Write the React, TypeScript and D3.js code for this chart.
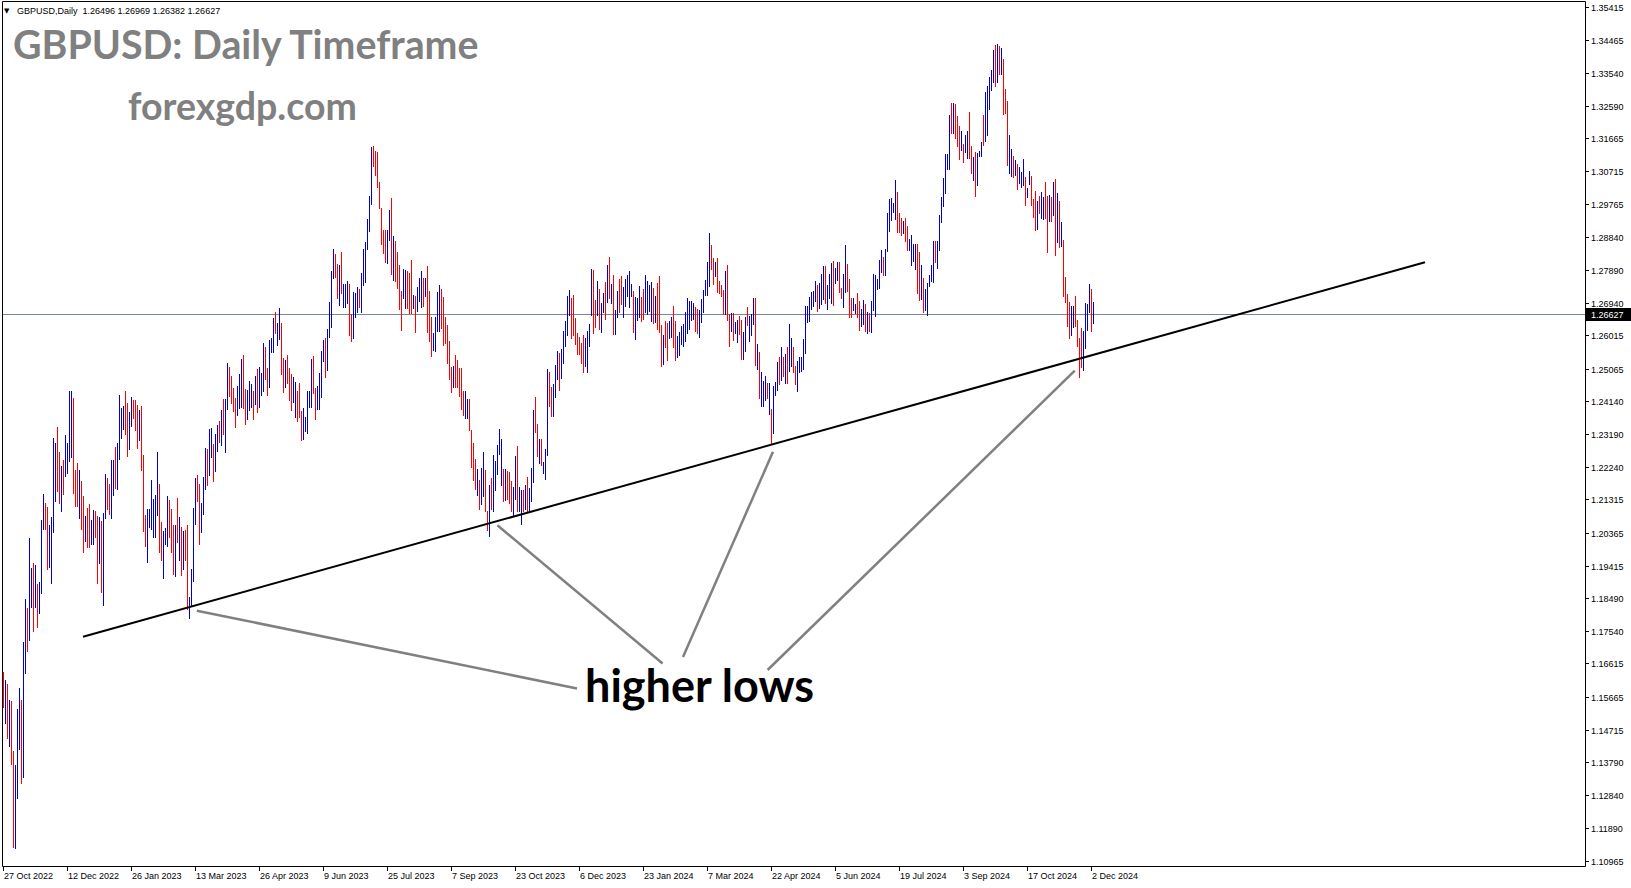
import { useEffect, useRef } from "react";
import * as d3 from "d3";

// GBPUSD daily bars, 27 Oct 2022 .. 2 Dec 2024 (high / low, u = up bar, d = down bar)
const highsP1 = [
  1.1637, 1.1614, 1.1603, 1.1557, 1.1554, 1.141, 1.137, 1.1531, 1.1591, 1.1557,
  1.1723, 1.1847, 1.1821, 1.2022, 1.1936, 1.195, 1.1944, 1.189, 1.1895, 1.2073,
  1.2148, 1.2122, 1.2111, 1.2059, 1.2082, 1.2306, 1.2294, 1.234, 1.2266, 1.2228,
  1.2243, 1.2317, 1.2294, 1.2441, 1.2443, 1.2423, 1.2217, 1.2237, 1.2217, 1.2185,
  1.2142, 1.2085, 1.2108, 1.2119, 1.2073, 1.2102, 1.2099, 1.2085, 1.2082, 1.207,
  1.2093, 1.2205, 1.2194, 1.2177, 1.2243, 1.2243, 1.2283, 1.2294, 1.2432, 1.2392,
  1.24, 1.2443, 1.2409, 1.2383, 1.2426, 1.2415, 1.2415, 1.2403, 1.2389, 1.2398,
  1.226, 1.2088, 1.2105, 1.2105, 1.2188, 1.2134, 1.2145, 1.2266, 1.2177, 1.2067,
  1.2042, 1.205, 1.2142, 1.2131, 1.2105, 1.2059, 1.2059, 1.2136, 1.2082, 1.2053,
  1.2042, 1.2045, 1.2059, 1.1852, 1.1933, 1.2108, 1.2194, 1.22, 1.2177, 1.2122,
  1.2197, 1.228, 1.2277, 1.2332, 1.2337, 1.2289, 1.232, 1.2346, 1.2357,
];
const lowsP1 = [
  1.1538, 1.1492, 1.1449, 1.1426, 1.1374, 1.1136, 1.1133, 1.1276, 1.1417, 1.132,
  1.1337, 1.1635, 1.1698, 1.173, 1.1822, 1.1753, 1.1822, 1.1767, 1.1807, 1.1862,
  1.2048, 1.2048, 1.1931, 1.1937, 1.1891, 1.2037, 1.2126, 1.2155, 1.212, 1.2097,
  1.2146, 1.2198, 1.2206, 1.2241, 1.2252, 1.2149, 1.2112, 1.2113, 1.2077, 1.2046,
  1.1982, 1.2011, 1.1994, 1.1994, 1.2003, 1.2003, 1.2025, 1.1891, 1.1948, 1.1865,
  1.183, 1.2077, 1.2103, 1.2091, 1.2077, 1.2143, 1.2163, 1.216, 1.2246, 1.2307,
  1.2332, 1.2318, 1.2255, 1.2275, 1.2341, 1.2364, 1.233, 1.2278, 1.2301, 1.2215,
  1.204, 1.1997, 1.1951, 1.2051, 1.2048, 1.2025, 1.2025, 1.2086, 1.198, 1.1957,
  1.1905, 1.2005, 1.1997, 1.2025, 1.1982, 1.1919, 1.1913, 1.2008, 1.1957, 1.1916,
  1.1931, 1.1957, 1.1816, 1.1793, 1.1825, 1.1899, 1.206, 1.2128, 1.2003, 1.2037,
  1.2089, 1.216, 1.2172, 1.2201, 1.2252, 1.2183, 1.2212, 1.2271, 1.2295,
];
const dirsP1 =
  "dududduuud" + "uuduududuu" + "udduuuuddu" + "duuuudddud" + "dudduuddud" +
  "uudduuduuu" + "udduudddud" + "dduuuuuudd" + "uuudddudud" + "udduuuuddu" + "uuduuduud";

const highsP2 = [
  1.2389, 1.242, 1.242, 1.2521, 1.2512, 1.2484, 1.2452, 1.2423, 1.2455, 1.2492,
  1.2535, 1.2544, 1.2449, 1.2446, 1.2472, 1.2463, 1.2443, 1.2484, 1.2504, 1.2512,
  1.2495, 1.2581, 1.2567, 1.2509, 1.2587, 1.2595, 1.265, 1.2667, 1.2638, 1.2679,
  1.2638, 1.2538, 1.2532, 1.2544, 1.2507, 1.2492, 1.2481, 1.2469, 1.2443, 1.2466,
  1.2384, 1.2393, 1.2367, 1.2443, 1.2441, 1.2535, 1.2541, 1.2452, 1.2455, 1.2495,
  1.2558, 1.2587, 1.2595, 1.2621, 1.2696, 1.2785, 1.2848, 1.2836, 1.2805, 1.2802,
  1.2839, 1.2748, 1.275, 1.2756, 1.275, 1.2664, 1.2725, 1.2722, 1.2739, 1.2733,
  1.2779, 1.2848, 1.2868, 1.2934, 1.3, 1.3141, 1.3144, 1.313, 1.3126, 1.304,
  1.2966, 1.2902, 1.2902, 1.2902, 1.296, 1.2994, 1.2885, 1.2871, 1.2839, 1.2802,
  1.2728, 1.2791, 1.2788, 1.2785, 1.2779, 1.2816, 1.2716, 1.2714, 1.274, 1.2766,
  1.2785, 1.2765, 1.2765, 1.2799, 1.2728, 1.2653, 1.2608, 1.2653, 1.2727, 1.2745,
];
const lowsP2 = [
  1.2286, 1.2318, 1.2266, 1.239, 1.2427, 1.2407, 1.2384, 1.2338, 1.2373, 1.2393,
  1.2396, 1.2393, 1.2347, 1.2361, 1.2387, 1.2396, 1.2361, 1.2404, 1.2381, 1.2396,
  1.243, 1.2441, 1.2476, 1.243, 1.2453, 1.2553, 1.2553, 1.2608, 1.2573, 1.2591,
  1.249, 1.2439, 1.2453, 1.2464, 1.2416, 1.2387, 1.241, 1.2367, 1.2355, 1.2367,
  1.2301, 1.2304, 1.2327, 1.2321, 1.2396, 1.2396, 1.2436, 1.2361, 1.239, 1.239,
  1.2424, 1.2528, 1.2482, 1.2502, 1.2596, 1.2625, 1.2766, 1.2769, 1.2708, 1.2688,
  1.2723, 1.2683, 1.2683, 1.2694, 1.2602, 1.2585, 1.2594, 1.2654, 1.2668, 1.2683,
  1.2668, 1.2746, 1.2754, 1.2849, 1.2901, 1.2978, 1.3087, 1.306, 1.3027, 1.2967,
  1.2863, 1.2837, 1.2812, 1.2809, 1.2874, 1.2777, 1.276, 1.2757, 1.2737, 1.2677,
  1.2616, 1.2708, 1.268, 1.268, 1.2665, 1.2665, 1.268, 1.2611, 1.267, 1.27,
  1.2683, 1.2685, 1.2714, 1.2611, 1.2585, 1.2542, 1.2559, 1.2556, 1.2614, 1.2614,
];
const dirsP2 =
  "uduudddduu" + "udduuududu" + "uudduuuduu" + "dduddduudd" + "duuuuudduu" +
  "uuduuuuddu" + "duuudduuud" + "uuuuuudddd" + "ddduududdd" + "duuddduduu" + "ududdduuuu";

const highsP3 = [
  1.2733, 1.271, 1.2653, 1.263, 1.2584, 1.2512, 1.2515, 1.2544, 1.253, 1.2507,
  1.2507, 1.2443, 1.2443, 1.242, 1.2418, 1.233, 1.2292, 1.2246, 1.2218, 1.2186,
  1.2221, 1.2266, 1.2215, 1.2097, 1.2172, 1.2192, 1.2258, 1.2241, 1.2287, 1.2332,
  1.2304, 1.2218, 1.2218, 1.2212, 1.2209, 1.2183, 1.2166, 1.2255, 1.2284, 1.2166,
  1.2157, 1.2157, 1.2172, 1.2195, 1.2163, 1.2221, 1.2387, 1.2424, 1.2347, 1.2304,
  1.2304, 1.2238, 1.2275, 1.2505, 1.2496, 1.2453, 1.2463, 1.2516, 1.2556, 1.2551,
  1.2562, 1.2614, 1.2642, 1.2714, 1.2731, 1.2708, 1.2717, 1.2651, 1.2608, 1.2596,
  1.2579, 1.2602, 1.2594, 1.2614, 1.2634, 1.2793, 1.2789, 1.2703, 1.2757, 1.2734,
  1.2695, 1.2723, 1.2754, 1.2803, 1.2826, 1.2749, 1.2774, 1.2674, 1.2728, 1.2763,
  1.2771, 1.274, 1.2763, 1.2774, 1.2786, 1.2749, 1.2728, 1.2711, 1.2708, 1.2743,
  1.2711, 1.2734, 1.2774, 1.2757, 1.2747, 1.2754, 1.2737, 1.2714, 1.2752, 1.2771,
];
const lowsP3 = [
  1.2622, 1.2574, 1.2579, 1.2522, 1.2476, 1.244, 1.2453, 1.2453, 1.2453, 1.2427,
  1.239, 1.2373, 1.2364, 1.2364, 1.233, 1.2223, 1.2186, 1.216, 1.2145, 1.2103,
  1.2117, 1.214, 1.2097, 1.2043, 1.2028, 1.2103, 1.2097, 1.2157, 1.2203, 1.2261,
  1.2172, 1.2126, 1.2129, 1.2132, 1.212, 1.2097, 1.2083, 1.2134, 1.2097, 1.2097,
  1.206, 1.2097, 1.2103, 1.2094, 1.2097, 1.2126, 1.218, 1.2324, 1.2255, 1.2235,
  1.2229, 1.2206, 1.2189, 1.2258, 1.2398, 1.237, 1.237, 1.2424, 1.2476, 1.2444,
  1.2479, 1.2522, 1.2571, 1.2602, 1.266, 1.2594, 1.2602, 1.2576, 1.2548, 1.2548,
  1.2522, 1.2496, 1.2513, 1.2496, 1.257, 1.266, 1.2608, 1.2625, 1.266, 1.2619,
  1.2611, 1.2668, 1.2648, 1.2697, 1.2708, 1.2694, 1.2605, 1.2605, 1.2654, 1.2668,
  1.2691, 1.2654, 1.2685, 1.2714, 1.2683, 1.2714, 1.2611, 1.2591, 1.2645, 1.2654,
  1.2642, 1.2648, 1.2668, 1.2662, 1.2671, 1.2642, 1.2637, 1.264, 1.2619, 1.2611,
];
const dirsP3 =
  "dddddduddd" + "dduuddddud" + "uudduduuuu" + "ududdduudu" + "ududuuuddu" +
  "duuudduuud" + "uuuuuddddd" + "dduuuuddud" + "uudududuud" + "duuuuuduuu" + "dduuuududd";

const highsP4 = [
  1.2631, 1.2602, 1.2642, 1.2637, 1.2642, 1.2654, 1.2685, 1.2642, 1.2599, 1.2611,
  1.2628, 1.2634, 1.2668, 1.2708, 1.27, 1.27, 1.2694, 1.2683, 1.2677, 1.2674,
  1.2706, 1.2731, 1.276, 1.2812, 1.2895, 1.286, 1.2823, 1.2812, 1.2823, 1.2757,
  1.2746, 1.2731, 1.2786, 1.2803, 1.2662, 1.2665, 1.2665, 1.264, 1.2645, 1.2657,
  1.2645, 1.2611, 1.2654, 1.2683, 1.2657, 1.2662, 1.2708, 1.2708, 1.2576, 1.2553,
  1.2496, 1.247, 1.2485, 1.2464, 1.2464, 1.239, 1.2456, 1.2467, 1.2525, 1.2539,
  1.2568, 1.2539, 1.2547, 1.2568, 1.2634, 1.2594, 1.2568, 1.2513, 1.2528, 1.2539,
  1.2539, 1.2591, 1.2685, 1.2685, 1.2711, 1.2726, 1.2728, 1.2757, 1.2746, 1.2751,
  1.2777, 1.28, 1.28, 1.2746, 1.2777, 1.2809, 1.2815, 1.2794, 1.2812, 1.2812,
  1.2737, 1.2777, 1.286, 1.2806, 1.2763, 1.2708, 1.2708, 1.2691, 1.2723, 1.27,
  1.2677, 1.2703, 1.2691, 1.2668, 1.2665, 1.27, 1.2777, 1.2774, 1.2763, 1.2817,
];
const lowsP4 = [
  1.2513, 1.2519, 1.2568, 1.253, 1.2594, 1.2596, 1.2568, 1.253, 1.2539, 1.2545,
  1.2576, 1.2571, 1.2585, 1.2608, 1.2619, 1.2645, 1.2648, 1.2614, 1.2608, 1.2596,
  1.264, 1.2668, 1.2717, 1.2717, 1.2743, 1.2792, 1.2749, 1.2772, 1.2726, 1.2723,
  1.2714, 1.2662, 1.2662, 1.2645, 1.2571, 1.2614, 1.2588, 1.2608, 1.2582, 1.2605,
  1.2533, 1.2533, 1.2556, 1.2631, 1.2585, 1.2602, 1.2634, 1.2516, 1.2505, 1.2421,
  1.2398, 1.2398, 1.2416, 1.2422, 1.2375, 1.2292, 1.2321, 1.243, 1.2444, 1.2462,
  1.2473, 1.2485, 1.2464, 1.2464, 1.2499, 1.2513, 1.2496, 1.2462, 1.2442, 1.2496,
  1.2499, 1.2505, 1.2551, 1.264, 1.2642, 1.2677, 1.2685, 1.27, 1.2671, 1.268,
  1.2691, 1.2706, 1.2694, 1.2677, 1.2708, 1.2694, 1.2688, 1.2751, 1.276, 1.2726,
  1.2708, 1.2683, 1.2726, 1.2728, 1.2654, 1.2654, 1.2674, 1.2665, 1.2654, 1.2617,
  1.2628, 1.2634, 1.2614, 1.2608, 1.2614, 1.2611, 1.2674, 1.2657, 1.2734, 1.2737,
];
const dirsP4 =
  "dudduudduu" + "uuuuuuuddu" + "uuuuuddudd" + "ddudduduud" + "duuduuudud" +
  "uuududuuud" + "ududuudduu" + "uuuuuuuudu" + "uuduuuduud" + "duuddduudd" + "uududuuuuu";

const highsP5 = [
  1.2846, 1.2826, 1.2849, 1.2952, 1.2992, 1.2995, 1.2981, 1.3047, 1.3013, 1.2952,
  1.2938, 1.2929, 1.2938, 1.2915, 1.2878, 1.2889, 1.2863, 1.2863, 1.2863, 1.284,
  1.2803, 1.2766, 1.2734, 1.2751, 1.2774, 1.2803, 1.2872, 1.2872, 1.2872, 1.2947,
  1.2998, 1.3053, 1.3122, 1.3122, 1.3233, 1.3268, 1.3268, 1.3265, 1.3231, 1.3202,
  1.3188, 1.315, 1.3176, 1.3188, 1.3242, 1.3145, 1.3113, 1.3127, 1.3124, 1.313,
  1.3156, 1.3233, 1.3299, 1.3317, 1.3343, 1.3363, 1.342, 1.3434, 1.3437, 1.3431,
  1.3426, 1.3394, 1.3308, 1.3274, 1.3176, 1.3136, 1.3116, 1.3104, 1.3093, 1.3084,
  1.307, 1.3107, 1.3056, 1.3024, 1.3073, 1.3058, 1.2992, 1.3015, 1.2987, 1.3001,
  1.3013, 1.2998, 1.3041, 1.3001, 1.3004, 1.2998, 1.3041, 1.305, 1.301, 1.2987,
  1.2926, 1.2875, 1.2769, 1.272, 1.2697, 1.2685, 1.2685, 1.2714, 1.2645, 1.2594,
  1.2622, 1.2614, 1.2694, 1.2691, 1.2749, 1.2734, 1.26969,
];
const lowsP5 = [
  1.2783, 1.2774, 1.2774, 1.2843, 1.2901, 1.2932, 1.2955, 1.2935, 1.2898, 1.2898,
  1.2889, 1.2895, 1.2872, 1.2846, 1.2846, 1.2803, 1.2815, 1.2792, 1.2723, 1.2703,
  1.2706, 1.2668, 1.2674, 1.266, 1.2743, 1.2757, 1.2754, 1.2812, 1.2794, 1.2846,
  1.2926, 1.2972, 1.301, 1.3079, 1.3079, 1.3182, 1.3182, 1.3167, 1.3145, 1.3107,
  1.3133, 1.3099, 1.3127, 1.311, 1.311, 1.3067, 1.3047, 1.3001, 1.3033, 1.3116,
  1.3116, 1.3147, 1.3159, 1.3176, 1.3251, 1.3305, 1.3328, 1.3317, 1.3328, 1.3351,
  1.3351, 1.3236, 1.3239, 1.309, 1.3067, 1.3058, 1.3056, 1.3061, 1.3021, 1.3038,
  1.3027, 1.3033, 1.2975, 1.2998, 1.3035, 1.2975, 1.2941, 1.2904, 1.2906, 1.2952,
  1.2938, 1.2935, 1.2938, 1.284, 1.2929, 1.2929, 1.2947, 1.2832, 1.2869, 1.2855,
  1.2858, 1.2714, 1.2697, 1.2628, 1.2595, 1.2602, 1.2625, 1.2628, 1.2571, 1.2482,
  1.251, 1.2502, 1.2565, 1.2617, 1.2668, 1.2614, 1.26382,
];
const dirsP5 =
  "uduuuuuudd" + "dudduuuudd" + "uduuuuuduu" + "uuuuududdd" + "uduudduduu" +
  "uduuuuudud" + "uddduududu" + "uuduudddud" + "uuddududud" + "udddduuddd" + "duuuudu";

const highs = [...highsP1, ...highsP2, ...highsP3, ...highsP4, ...highsP5];
const lows = [...lowsP1, ...lowsP2, ...lowsP3, ...lowsP4, ...lowsP5];
const dirs = (dirsP1 + dirsP2 + dirsP3 + dirsP4 + dirsP5).split("");

const priceTicks = [
  1.35415, 1.34465, 1.3354, 1.3259, 1.31665, 1.30715, 1.29765, 1.2884, 1.2789,
  1.2694, 1.26015, 1.25065, 1.2414, 1.2319, 1.2224, 1.21315, 1.20365, 1.19415,
  1.1849, 1.1754, 1.16615, 1.15665, 1.14715, 1.1379, 1.1284, 1.1189, 1.10965,
];
const dateLabels = [
  "27 Oct 2022", "12 Dec 2022", "26 Jan 2023", "13 Mar 2023", "26 Apr 2023",
  "9 Jun 2023", "25 Jul 2023", "7 Sep 2023", "23 Oct 2023", "6 Dec 2023",
  "23 Jan 2024", "7 Mar 2024", "22 Apr 2024", "5 Jun 2024", "19 Jul 2024",
  "3 Sep 2024", "17 Oct 2024", "2 Dec 2024",
];
const barsPerDateLabel = 32;

const lastQuote = { open: 1.26496, high: 1.26969, low: 1.26382, close: 1.26627 };

// drawn objects: [bar index, price]
const trendLine: [number, number][] = [
  [40, 1.17381],
  [711, 1.28108],
];
const pointerLines: [number, number][][] = [
  [[96.9, 1.18126], [287, 1.15896]],
  [[247.2, 1.20573], [329.8, 1.16613]],
  [[385, 1.22681], [340, 1.16799]],
  [[535.9, 1.25002], [382.3, 1.16426]],
];
const noteAnchor: [number, number] = [291, 1.15509];

const W = 1631;
const H = 888;
const plot = { left: 2, top: 1, right: 1585, bottom: 866 };

export default function App() {
  const ref = useRef<SVGSVGElement>(null);

  useEffect(() => {
    if (!ref.current) return;
    const svg = d3.select(ref.current);
    svg.selectAll("*").remove();

    const n = highs.length;
    const x = d3.scaleLinear().domain([0, n - 1]).range([3, 3 + (n - 1) * 2]);
    const y = d3.scaleLinear().domain([1.10965, 1.35415]).range([860.6, 7.3]);
    const axisFont = "'Liberation Sans', Arial, sans-serif";

    svg.append("rect").attr("width", W).attr("height", H).attr("fill", "#fff");

    svg
      .append("clipPath")
      .attr("id", "plotClip")
      .append("rect")
      .attr("x", plot.left)
      .attr("y", plot.top)
      .attr("width", plot.right - plot.left)
      .attr("height", plot.bottom - plot.top);

    const g = svg.append("g").attr("clip-path", "url(#plotClip)");

    // current price line
    g.append("line")
      .attr("x1", plot.left)
      .attr("x2", plot.right)
      .attr("y1", Math.round(y(lastQuote.close)) + 0.5)
      .attr("y2", Math.round(y(lastQuote.close)) + 0.5)
      .attr("stroke", "#778899")
      .attr("stroke-width", 1);

    // bars
    g.append("g")
      .selectAll("line")
      .data(highs.map((h, i) => ({ i, h, l: lows[i], up: dirs[i] === "u" })))
      .join("line")
      .attr("x1", (d) => Math.round(x(d.i)) + 0.5)
      .attr("x2", (d) => Math.round(x(d.i)) + 0.5)
      .attr("y1", (d) => Math.round(y(d.h)))
      .attr("y2", (d) => Math.round(y(d.l)) + 1)
      .attr("stroke", (d) => (d.up ? "#0000cd" : "#ff0000"))
      .attr("stroke-width", 1);

    // trend line
    const line = d3
      .line<[number, number]>()
      .x((d) => x(d[0]))
      .y((d) => y(d[1]));
    g.append("path")
      .attr("d", line(trendLine))
      .attr("fill", "none")
      .attr("stroke", "#000")
      .attr("stroke-width", 2);

    g.append("g")
      .selectAll("path")
      .data(pointerLines)
      .join("path")
      .attr("d", (d) => line(d))
      .attr("fill", "none")
      .attr("stroke", "#808080")
      .attr("stroke-width", 2.5);

    g.append("text")
      .attr("x", x(noteAnchor[0]))
      .attr("y", y(noteAnchor[1]))
      .attr("font-family", "Lato, sans-serif")
      .attr("font-weight", 700)
      .attr("font-size", 45)
      .attr("fill", "#000")
      .text("higher lows");

    // watermark texts
    svg
      .append("text")
      .attr("x", 13)
      .attr("y", 59)
      .attr("font-family", "Lato, sans-serif")
      .attr("font-weight", 700)
      .attr("font-size", 39.3)
      .attr("fill", "#808080")
      .text("GBPUSD: Daily Timeframe");
    svg
      .append("text")
      .attr("x", 128)
      .attr("y", 120)
      .attr("font-family", "Lato, sans-serif")
      .attr("font-weight", 700)
      .attr("font-size", 37.5)
      .attr("fill", "#808080")
      .text("forexgdp.com");

    // header
    svg
      .append("text")
      .attr("x", 4)
      .attr("y", 13)
      .attr("font-family", "'DejaVu Sans', sans-serif")
      .attr("font-size", 7)
      .attr("fill", "#000")
      .text("▼");
    svg
      .append("text")
      .attr("x", 17)
      .attr("y", 13.5)
      .attr("font-family", axisFont)
      .attr("font-size", 9)
      .attr("fill", "#000")
      .attr("xml:space", "preserve")
      .text(
        `GBPUSD,Daily  ${lastQuote.open.toFixed(5)} ${lastQuote.high.toFixed(5)} ${lastQuote.low.toFixed(5)} ${lastQuote.close.toFixed(5)}`
      );

    // frame
    svg
      .append("path")
      .attr(
        "d",
        `M${plot.left + 0.5},${plot.bottom + 0.5}V${plot.top + 0.5}H${plot.right + 0.5}V${plot.bottom + 0.5}H${plot.left + 0.5}`
      )
      .attr("fill", "none")
      .attr("stroke", "#000")
      .attr("stroke-width", 1);

    // price axis
    const pa = svg.append("g");
    pa.selectAll("line")
      .data(priceTicks)
      .join("line")
      .attr("x1", plot.right)
      .attr("x2", plot.right + 4)
      .attr("y1", (d) => Math.round(y(d)) + 0.5)
      .attr("y2", (d) => Math.round(y(d)) + 0.5)
      .attr("stroke", "#000");
    pa.selectAll("text")
      .data(priceTicks)
      .join("text")
      .attr("x", plot.right + 6)
      .attr("y", (d) => Math.round(y(d)) + 3.5)
      .attr("font-family", axisFont)
      .attr("font-size", 9)
      .attr("fill", "#000")
      .text((d) => d.toFixed(5));

    // current price tag
    const py = Math.round(y(lastQuote.close));
    svg
      .append("rect")
      .attr("x", plot.right + 1)
      .attr("y", py - 6)
      .attr("width", W - plot.right - 1)
      .attr("height", 13)
      .attr("fill", "#000");
    svg
      .append("text")
      .attr("x", plot.right + 6)
      .attr("y", py + 4)
      .attr("font-family", axisFont)
      .attr("font-size", 9)
      .attr("fill", "#fff")
      .text(lastQuote.close.toFixed(5));

    // time axis
    const ta = svg.append("g");
    const dl = dateLabels.map((t, k) => ({ t, i: k * barsPerDateLabel }));
    ta.selectAll("line")
      .data(dl)
      .join("line")
      .attr("x1", (d) => Math.round(x(d.i)) + 0.5)
      .attr("x2", (d) => Math.round(x(d.i)) + 0.5)
      .attr("y1", plot.bottom)
      .attr("y2", plot.bottom + 5)
      .attr("stroke", "#000");
    ta.selectAll("text")
      .data(dl)
      .join("text")
      .attr("x", (d) => Math.round(x(d.i)) + 1)
      .attr("y", plot.bottom + 13)
      .attr("font-family", axisFont)
      .attr("font-size", 9)
      .attr("fill", "#000")
      .text((d) => d.t);
  }, []);

  return (
    <div style={{ position: "absolute", left: 0, top: 0 }}>
      <svg ref={ref} width={W} height={H} style={{ display: "block" }} />
    </div>
  );
}
